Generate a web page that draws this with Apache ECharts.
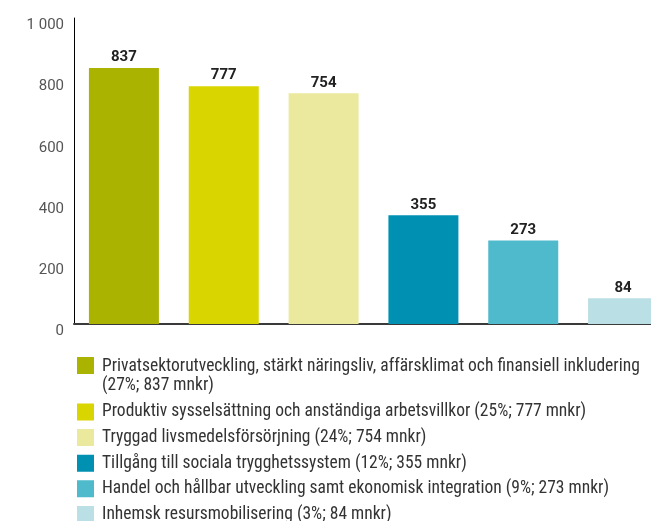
<!DOCTYPE html>
<html><head><meta charset="utf-8">
<script src="https://cdn.jsdelivr.net/npm/echarts@6/dist/echarts.min.js"></script>
<style>html,body{margin:0;padding:0;background:#fff}#c{width:651px;height:521px}</style>
</head><body><div id="c"></div>
<script>
const categories = [
  'Privatsektorutveckling, stärkt näringsliv, affärsklimat och finansiell inkludering',
  'Produktiv sysselsättning och anständiga arbetsvillkor',
  'Tryggad livsmedelsförsörjning',
  'Tillgång till sociala trygghetssystem',
  'Handel och hållbar utveckling samt ekonomisk integration',
  'Inhemsk resursmobilisering'
];
const values = [837, 777, 754, 355, 273, 84];
const shares = ['27%', '25%', '24%', '12%', '9%', '3%'];
const colors = ['#AAB400', '#D9D500', '#EBE99D', '#0090B2', '#4FBACB', '#BADFE4'];
const yTicks = [0, 200, 400, 600, 800, 1000];
const yTickLabels = ['0', '200', '400', '600', '800', '1 000'];

const legendNames = categories.map((c, i) => c + ' (' + shares[i] + '; ' + values[i] + ' mnkr)');
const FONT = '"Roboto Condensed", Roboto, sans-serif';

const series = categories.map((c, i) => ({
  name: legendNames[i],
  type: 'bar',
  stack: 'all',
  barWidth: 70,
  itemStyle: { color: colors[i] },
  label: {
    show: true, position: 'top', distance: 3,
    fontFamily: 'Roboto', fontWeight: 'bold', fontSize: 15, color: '#222'
  },
  data: values.map((v, j) => j === i ? v : null)
}));

const chart = echarts.init(document.getElementById('c'));
chart.setOption({
  animation: false,
  grid: { left: 74, right: -22, top: 18, bottom: 197, outerBoundsMode: 'none', containLabel: false },
  xAxis: {
    type: 'category',
    data: categories,
    axisLine: { show: true, lineStyle: { color: '#3a3a3a', width: 2 } },
    axisTick: { show: false },
    axisLabel: { show: false }
  },
  yAxis: {
    type: 'value',
    min: yTicks[0], max: yTicks[yTicks.length - 1], interval: 200,
    axisLine: { show: true, lineStyle: { color: '#000', width: 1 } },
    axisTick: { show: false },
    splitLine: { show: false },
    axisLabel: {
      margin: 10,
      fontFamily: 'Roboto', fontSize: 15, color: '#555',
      verticalAlign: 'top', lineHeight: 15,
      formatter: v => yTickLabels[yTicks.indexOf(v)]
    }
  },
  legend: [
    {
      data: [{ name: legendNames[0], icon: 'path://M0,0L17,0L17,17L0,17Z M20,38L20.01,38' }],
      orient: 'vertical', left: 77, top: 357, padding: 0,
      itemWidth: 20, itemHeight: 38, selectedMode: false,
      formatter: () => 'Privatsektorutveckling, stärkt näringsliv, affärsklimat och finansiell inkludering\n(' + shares[0] + '; ' + values[0] + ' mnkr)',
      textStyle: { fontFamily: FONT, fontSize: 17.5, color: '#333', lineHeight: 19 }
    },
    {
      data: legendNames.slice(1).map(n => ({ name: n, icon: 'path://M0,0L17,0L17,17L0,17Z M20,17L20.01,17' })),
      orient: 'vertical', left: 77, top: 403, padding: 0, height: 140,
      itemWidth: 20, itemHeight: 17, itemGap: 7.6, selectedMode: false,
      textStyle: { fontFamily: FONT, fontSize: 17.5, color: '#333', lineHeight: 17 }
    }
  ],
  series: series
});
</script></body></html>
